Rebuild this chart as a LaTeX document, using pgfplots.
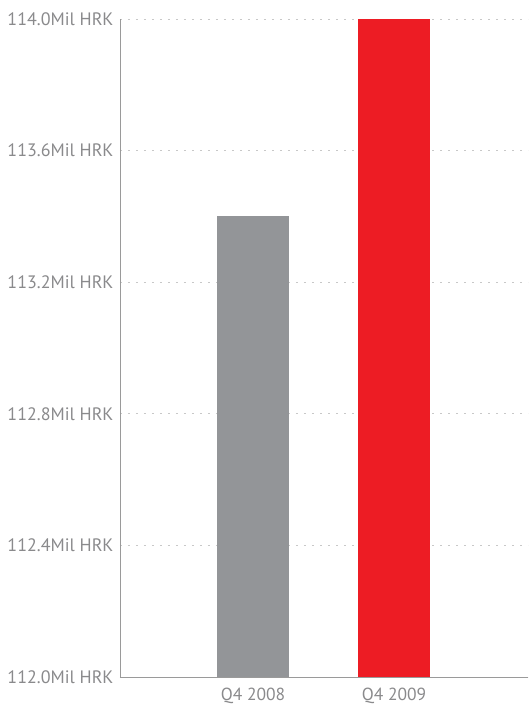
\documentclass[border=0pt]{standalone}
\usepackage{pgfplots}
\pgfplotsset{compat=1.18}
\usepackage{fontspec}
\setmainfont{PT Sans}
\definecolor{txtgray}{HTML}{8A8A8C}
\definecolor{bargray}{HTML}{939598}
\definecolor{barred}{HTML}{ED1C24}
\definecolor{gridgray}{HTML}{C8C8C8}
\definecolor{axgray}{HTML}{9A9A9A}
\begin{document}
\begin{tikzpicture}
\begin{axis}[
  name=ax,
  scale only axis,
  width=408bp, height=658bp,
  xmin=-0.943, xmax=1.95,
  ymin=112, ymax=114,
  axis x line=bottom, axis y line=left,
  axis line style={-, axgray, line width=0.8bp},
  xtick={0,1},
  xticklabels={Q4 2008, \raisebox{-3bp}{Q4 2009}},
  ytick={112,112.4,112.8,113.2,113.6,114},
  yticklabels={112.0Mil HRK,112.4Mil HRK,112.8Mil HRK,113.2Mil HRK,113.6Mil HRK,114.0Mil HRK},
  major tick length=0pt,
  ymajorgrids,
  grid style={gridgray, dash pattern=on 2bp off 6bp, line width=0.8bp},
  yticklabel style={font=\fontsize{18bp}{20bp}\selectfont, text=txtgray, xshift=-3bp},
  xticklabel style={font=\fontsize{17.5bp}{20bp}\selectfont, text=txtgray, yshift=-8bp},
  ybar, bar width=72bp, bar shift=0pt,
  clip=true,
]
\addplot[draw=none, fill=bargray] coordinates {(0,113.4)};
\addplot[draw=none, fill=barred] coordinates {(1,114.0)};
\end{axis}
\path (ax.south west) ++(-120bp,-31bp) rectangle ([yshift=19bp]ax.north east);
\end{tikzpicture}
\end{document}
